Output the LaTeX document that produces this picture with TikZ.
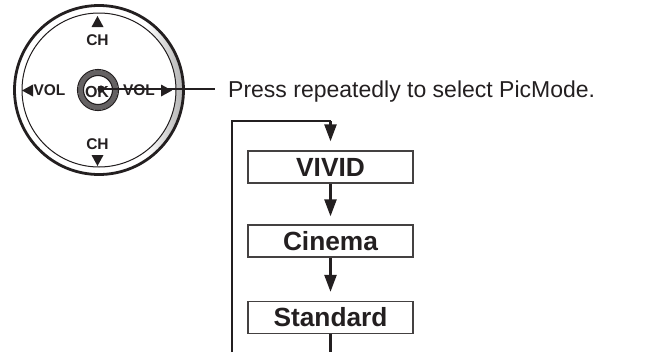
\documentclass[tikz,border=0pt]{standalone}
\usepackage{fontspec}
\setmainfont{Liberation Sans}
\usetikzlibrary{arrows.meta}
\definecolor{ink}{HTML}{231F20}
\pgfdeclarehorizontalshading{ringshade}{100bp}{color(0bp)=(white); color(64bp)=(white); color(80bp)=(black!45); color(92bp)=(black!80); color(100bp)=(black!80)}
\begin{document}
\begin{tikzpicture}[x=1pt,y=-1pt,
  modebox/.style={draw=ink!85, line width=1.3pt, minimum width=165pt, minimum height=32pt, inner sep=0pt,
     font=\fontsize{26.3}{30}\selectfont\bfseries, text=ink},
  flow/.style={draw=ink, line width=2.4pt},
  tipped/.style={flow, -{Triangle[length=17pt,width=12pt]}},
  keylbl/.style={font=\fontsize{15.5}{17}\selectfont\bfseries, text=ink, inner sep=0pt},
  keytri/.style={fill=ink, draw=none}]
\useasboundingbox (0,0) rectangle (655,359);
% remote dial
\coordinate (dc) at (99,90);
\fill[even odd rule, shading=ringshade] (dc) circle[radius=85] (dc) circle[radius=77];
\draw[ink, line width=2.8pt] (dc) circle[radius=84.5];
\draw[ink, line width=1pt] (dc) circle[radius=77];
% direction keys
\fill[keytri] (97.5,16) -- (103.5,27) -- (91.5,27) -- cycle;
\node[keylbl] (chup) at (97.5,40.5) {CH};
\fill[keytri] (97.5,166) -- (103.5,155) -- (91.5,155) -- cycle;
\node[keylbl] (chdn) at (97.5,144.5) {CH};
\fill[keytri] (22,90.5) -- (33,84.5) -- (33,96.5) -- cycle;
\node[keylbl] (volL) at (49.5,90.5) {VOL};
\fill[keytri] (172,90.5) -- (161,84.5) -- (161,96.5) -- cycle;
\node[keylbl] (volR) at (139,90.5) {VOL};
% OK button
\coordinate (okc) at (98,90);
\fill[even odd rule, ink!70] (okc) circle[radius=20] (okc) circle[radius=14.5];
\draw[ink, line width=1.1pt] (okc) circle[radius=20.5] (okc) circle[radius=14.5];
\node[keylbl, font=\fontsize{16}{18}\selectfont\bfseries] (ok) at (97,92) {OK};
\fill[ink] (101,89) circle[radius=3.6];
\coordinate (dot) at (101,89);
\coordinate (lineend) at (215,89);
\draw[ink, line width=1.7pt] (dot) -- (lineend);
\node[anchor=base west, inner sep=0pt, font=\fontsize{23}{27}\selectfont, text=ink] (press) at (228,97) {Press repeatedly to select PicMode.};
% mode boxes
\node[modebox] (vivid) at (330.5,167) {VIVID};
\node[modebox] (cinema) at (330.5,241) {Cinema};
\node[modebox] (standard) at (330.5,317.5) {Standard};
\coordinate (botR) at (330.5,352);
\coordinate (botL) at (232,352);
\coordinate (topL) at (232,121);
\coordinate (topR) at (330.5,121);
\draw[flow] (standard.south) -- (botR);
\draw[flow] (botL) -- (topL) -- (topR);
\draw[tipped, shorten >=9pt] (topR) -- (vivid.north);
\draw[tipped, shorten >=8pt] (vivid.south) -- (cinema.north);
\draw[tipped, shorten >=9pt] (cinema.south) -- (standard.north);
\end{tikzpicture}
\end{document}
